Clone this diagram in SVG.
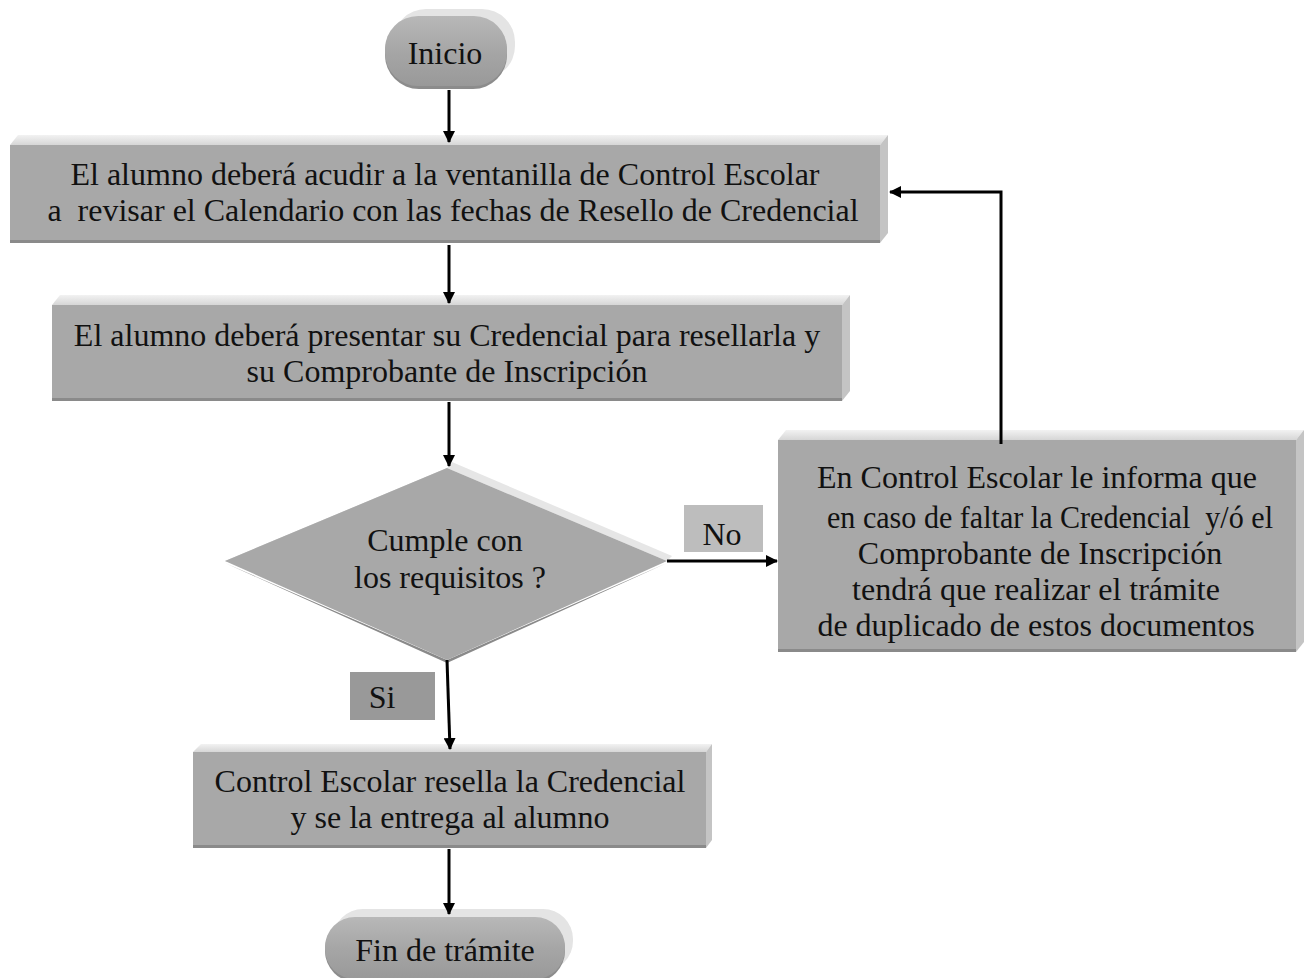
<svg xmlns="http://www.w3.org/2000/svg" width="1304" height="978" viewBox="0 0 1304 978">
  <style>
    .face { fill: #a8a8a8; }
    .top { fill: url(#topGrad); }
    .side { fill: #c4c4c4; }
    .shade { fill: #8a8a8a; }
    .lbl { font-family: "Liberation Serif", "Times New Roman", serif; font-size: 32px; fill: #111; text-anchor: middle; white-space: pre; }
    .wire { stroke: #000; stroke-width: 3; fill: none; }
  </style>
  <defs>
    <linearGradient id="topGrad" x1="0" y1="0" x2="0" y2="1">
      <stop offset="0" stop-color="#f2f2f2"/>
      <stop offset="1" stop-color="#d6d6d6"/>
    </linearGradient>
    <linearGradient id="pillGrad" x1="0" y1="0" x2="0" y2="1">
      <stop offset="0" stop-color="#b8b8b8"/>
      <stop offset="0.5" stop-color="#a6a6a6"/>
      <stop offset="1" stop-color="#999"/>
    </linearGradient>
    <marker id="arrow" viewBox="0 0 12 12" refX="11" refY="6" markerWidth="12" markerHeight="12" markerUnits="userSpaceOnUse" orient="auto">
      <path d="M0,0 L12,6 L0,12 Z" fill="#000"/>
    </marker>
  </defs>

  <!-- Inicio -->
  <g id="inicio">
    <rect x="393" y="9" width="122" height="70" rx="33" fill="#e4e4e4"/>
    <rect x="385" y="17" width="122" height="72" rx="34" fill="#8c8c8c"/>
    <rect x="385" y="16" width="122" height="70" rx="33" fill="url(#pillGrad)"/>
    <text class="lbl" x="445" y="64">Inicio</text>
  </g>

  <!-- Step 1 -->
  <g id="paso1">
    <polygon class="top" points="10,145 18,135 888,135 880,145"/>
    <polygon class="side" points="880,145 888,135 888,233 880,243"/>
    <rect class="shade" x="10" y="239" width="870" height="4"/>
    <rect class="face" x="10" y="145" width="870" height="95"/>
    <text class="lbl" x="445" y="185">El alumno deberá acudir a la ventanilla de Control Escolar</text>
    <text class="lbl" x="453" y="221">a  revisar el Calendario con las fechas de Resello de Credencial</text>
  </g>

  <!-- Step 2 -->
  <g id="paso2">
    <polygon class="top" points="52,305 60,295 850,295 842,305"/>
    <polygon class="side" points="842,305 850,295 850,391 842,401"/>
    <rect class="shade" x="52" y="397" width="790" height="4"/>
    <rect class="face" x="52" y="305" width="790" height="93"/>
    <text class="lbl" x="447" y="346">El alumno deberá presentar su Credencial para resellarla y</text>
    <text class="lbl" x="447" y="382">su Comprobante de Inscripción</text>
  </g>

  <!-- Decision -->
  <g id="decision">
    <polygon points="447,468 452,462 672,556 667,561" fill="#e6e6e6"/>
    <polygon points="225,561 447,468 447,471 228,562" fill="#d8d8d8"/>
    <polygon points="225,563 447,663 667,563 447,660" fill="#8a8a8a"/>
    <polygon class="face" points="447,468 667,561 447,660 225,561"/>
    <text class="lbl" x="445" y="551">Cumple con</text>
    <text class="lbl" x="450" y="588">los requisitos ?</text>
  </g>

  <!-- Right box -->
  <g id="aviso">
    <polygon class="top" points="778,440 786,430 1304,430 1296,440"/>
    <polygon class="side" points="1296,440 1304,430 1304,642 1296,652"/>
    <rect class="shade" x="778" y="648" width="518" height="4"/>
    <rect class="face" x="778" y="440" width="518" height="209"/>
    <text class="lbl" x="1037" y="488">En Control Escolar le informa que</text>
    <text class="lbl" x="1050" y="528" textLength="446" lengthAdjust="spacingAndGlyphs">en caso de faltar la Credencial  y/ó el</text>
    <text class="lbl" x="1040" y="564">Comprobante de Inscripción</text>
    <text class="lbl" x="1036" y="600">tendrá que realizar el trámite</text>
    <text class="lbl" x="1036" y="636">de duplicado de estos documentos</text>
  </g>

  <!-- Step 3 -->
  <g id="paso3">
    <polygon class="top" points="193,752 201,744 712,744 706,752"/>
    <polygon class="side" points="706,752 712,744 712,840 706,848"/>
    <rect class="shade" x="193" y="844" width="513" height="4"/>
    <rect class="face" x="193" y="752" width="513" height="93"/>
    <text class="lbl" x="450" y="792">Control Escolar resella la Credencial</text>
    <text class="lbl" x="450" y="828">y se la entrega al alumno</text>
  </g>

  <!-- Fin -->
  <g id="fin">
    <rect x="333" y="909" width="240" height="62" rx="30" fill="#e4e4e4"/>
    <rect x="325" y="918" width="240" height="64" rx="31" fill="#8c8c8c"/>
    <rect x="325" y="917" width="240" height="62" rx="30" fill="url(#pillGrad)"/>
    <text class="lbl" x="445" y="961">Fin de trámite</text>
  </g>

  <!-- Branch labels -->
  <g id="etiqueta-no">
    <rect x="684" y="505" width="79" height="47" fill="#bdbdbd"/>
    <text class="lbl" x="722" y="545">No</text>
  </g>
  <g id="etiqueta-si">
    <rect x="350" y="672" width="85" height="48" fill="#999999"/>
    <text class="lbl" x="382" y="708">Si</text>
  </g>

  <!-- Connectors -->
  <g id="conectores" class="wire">
    <line x1="449" y1="90" x2="449" y2="142" marker-end="url(#arrow)"/>
    <line x1="449" y1="245" x2="449" y2="303" marker-end="url(#arrow)"/>
    <line x1="449" y1="402" x2="449" y2="466" marker-end="url(#arrow)"/>
    <line x1="667" y1="561" x2="777" y2="561" marker-end="url(#arrow)"/>
    <polyline points="1001,444 1001,192 890,192" marker-end="url(#arrow)"/>
    <line x1="447" y1="660" x2="450" y2="749" marker-end="url(#arrow)"/>
    <line x1="449" y1="849" x2="449" y2="914" marker-end="url(#arrow)"/>
  </g>
</svg>
